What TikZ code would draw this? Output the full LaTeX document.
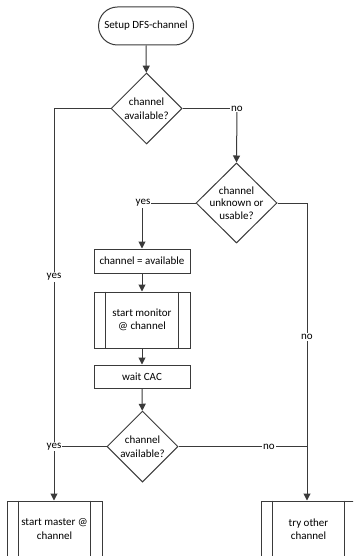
\documentclass[tikz,border=0pt]{standalone}
\usepackage{fontspec}
\setmainfont{Carlito}
\usetikzlibrary{shapes.geometric,arrows.meta}
\definecolor{ln}{HTML}{3A3A3A}
\tikzset{
  base/.style={draw=ln, line width=1pt, font=\fontsize{11}{13.5}\selectfont, align=center, inner sep=0pt},
  term/.style={base, rounded corners=19pt, minimum width=95pt, minimum height=38pt},
  proc/.style={base, minimum width=96pt, minimum height=24pt},
  sub/.style={base, minimum width=96pt, minimum height=56pt},
  dia/.style={base, diamond, aspect=1},
  lab/.style={font=\fontsize{11}{13}\selectfont, fill=white, inner sep=1pt},
  conn/.style={draw=ln, line width=1pt},
  arr/.style={conn, -{Triangle[length=7pt,width=7pt]}},
}
\begin{document}
\begin{tikzpicture}[x=1pt,y=1pt]
\useasboundingbox (0,0) rectangle (353,-556);
\clip (0,0) rectangle (353,-556);
\node[term] (start) at (146,-26) {Setup DFS-channel};
\node[dia, minimum width=71pt, minimum height=71pt, label={[align=center,font=\fontsize{11}{13.5}\selectfont]center:channel\\available?}] (d1) at (146.5,-108.5) {};
\node[dia, minimum width=81pt, minimum height=80pt, label={[align=center,font=\fontsize{11}{12.7}\selectfont]center:channel\\unknown or\\usable?}] (d2) at (236.5,-203) {};
\node[proc] (b1) at (142,-261) {channel = available};
\node[sub] (b2) at (142,-320) {start monitor\\@ channel};
\node[proc, minimum height=23pt] (b3) at (142,-376.5) {wait CAC};
\node[dia, minimum width=71pt, minimum height=71pt, label={[align=center,font=\fontsize{11}{13.5}\selectfont]center:channel\\available?}] (d3) at (142.5,-446.5) {};
\node[sub, minimum width=95pt] (m) at (54.5,-529) {start master @\\channel};
\node[sub, minimum width=95pt] (t) at (308.5,-529) {try other\\channel};
\foreach \n in {b2,m,t}{
  \draw[conn] ([xshift=12pt]\n.north west) -- ([xshift=12pt]\n.south west);
  \draw[conn] ([xshift=-12pt]\n.north east) -- ([xshift=-12pt]\n.south east);
}
% coordinates
\coordinate (c1) at (54,-108.5);
\coordinate (j1) at (54,-446.5);
\coordinate (c2) at (237,-108.5);
\coordinate (c3) at (142,-203);
\coordinate (c4) at (307,-203);
\coordinate (j2) at (307,-446.5);
% connectors
\draw[arr] (start) -- (d1);
\draw[conn] (d1.west) -- (c1) -- (j1);
\draw[arr] (j1) -- (m.north -| j1);
\draw[conn] (d3.west) -- (j1);
\draw[conn] (d1.east) -- (c2);
\draw[arr] (c2) -- (d2.north);
\draw[conn] (d2.west) -- (c3);
\draw[arr] (c3) -- (b1.north);
\draw[conn] (d2.east) -- (c4) -- (j2);
\draw[arr] (j2) -- (t.north -| j2);
\draw[conn] (d3.east) -- (j2);
\draw[arr] (b1) -- (b2);
\draw[arr] (b2) -- (b3);
\draw[arr] (b3) -- (d3);
% labels
\node[lab] (l1) at (54,-277) {yes};
\node[lab] (l2) at (54,-446.5) {yes};
\node[lab] (l3) at (237,-108.5) {no};
\node[lab] (l4) at (143,-203) {yes};
\node[lab] (l5) at (307,-337) {no};
\node[lab] (l6) at (269,-446.5) {no};
\end{tikzpicture}
\end{document}
